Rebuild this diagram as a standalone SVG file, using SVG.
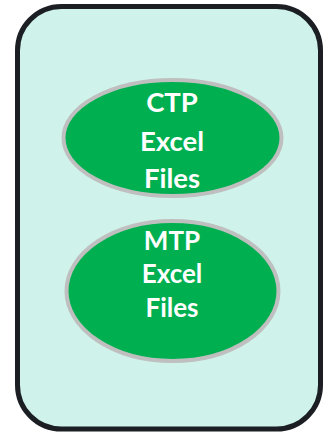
<svg xmlns="http://www.w3.org/2000/svg" width="325" height="433" viewBox="0 0 325 433">
<style>
.box{fill:#CFF3EA;stroke:#1B1F23;stroke-width:5}
.node{fill:#00B050;stroke:#BFBFBF;stroke-width:4}
.lbl{fill:#FFFFFF;font-family:Lato,"Open Sans",sans-serif;font-weight:bold;text-anchor:middle}
</style>
<g id="container"><rect class="box" x="17.5" y="6.5" width="303" height="422.5" rx="44" ry="44"/></g>
<g id="connectors"></g>
<g id="ctp">
<ellipse class="node" cx="172.5" cy="138" rx="109" ry="58"/>
<text class="lbl" font-size="27.5" x="172" y="112">CTP</text>
<text class="lbl" font-size="27.5" x="172" y="151">Excel</text>
<text class="lbl" font-size="27.5" x="172" y="188">Files</text>
</g>
<g id="mtp">
<ellipse class="node" cx="172.5" cy="291" rx="106" ry="70"/>
<text class="lbl" font-size="26" x="172" y="250">MTP</text>
<text class="lbl" font-size="26" x="172" y="283">Excel</text>
<text class="lbl" font-size="26" x="172" y="317">Files</text>
</g>
</svg>
